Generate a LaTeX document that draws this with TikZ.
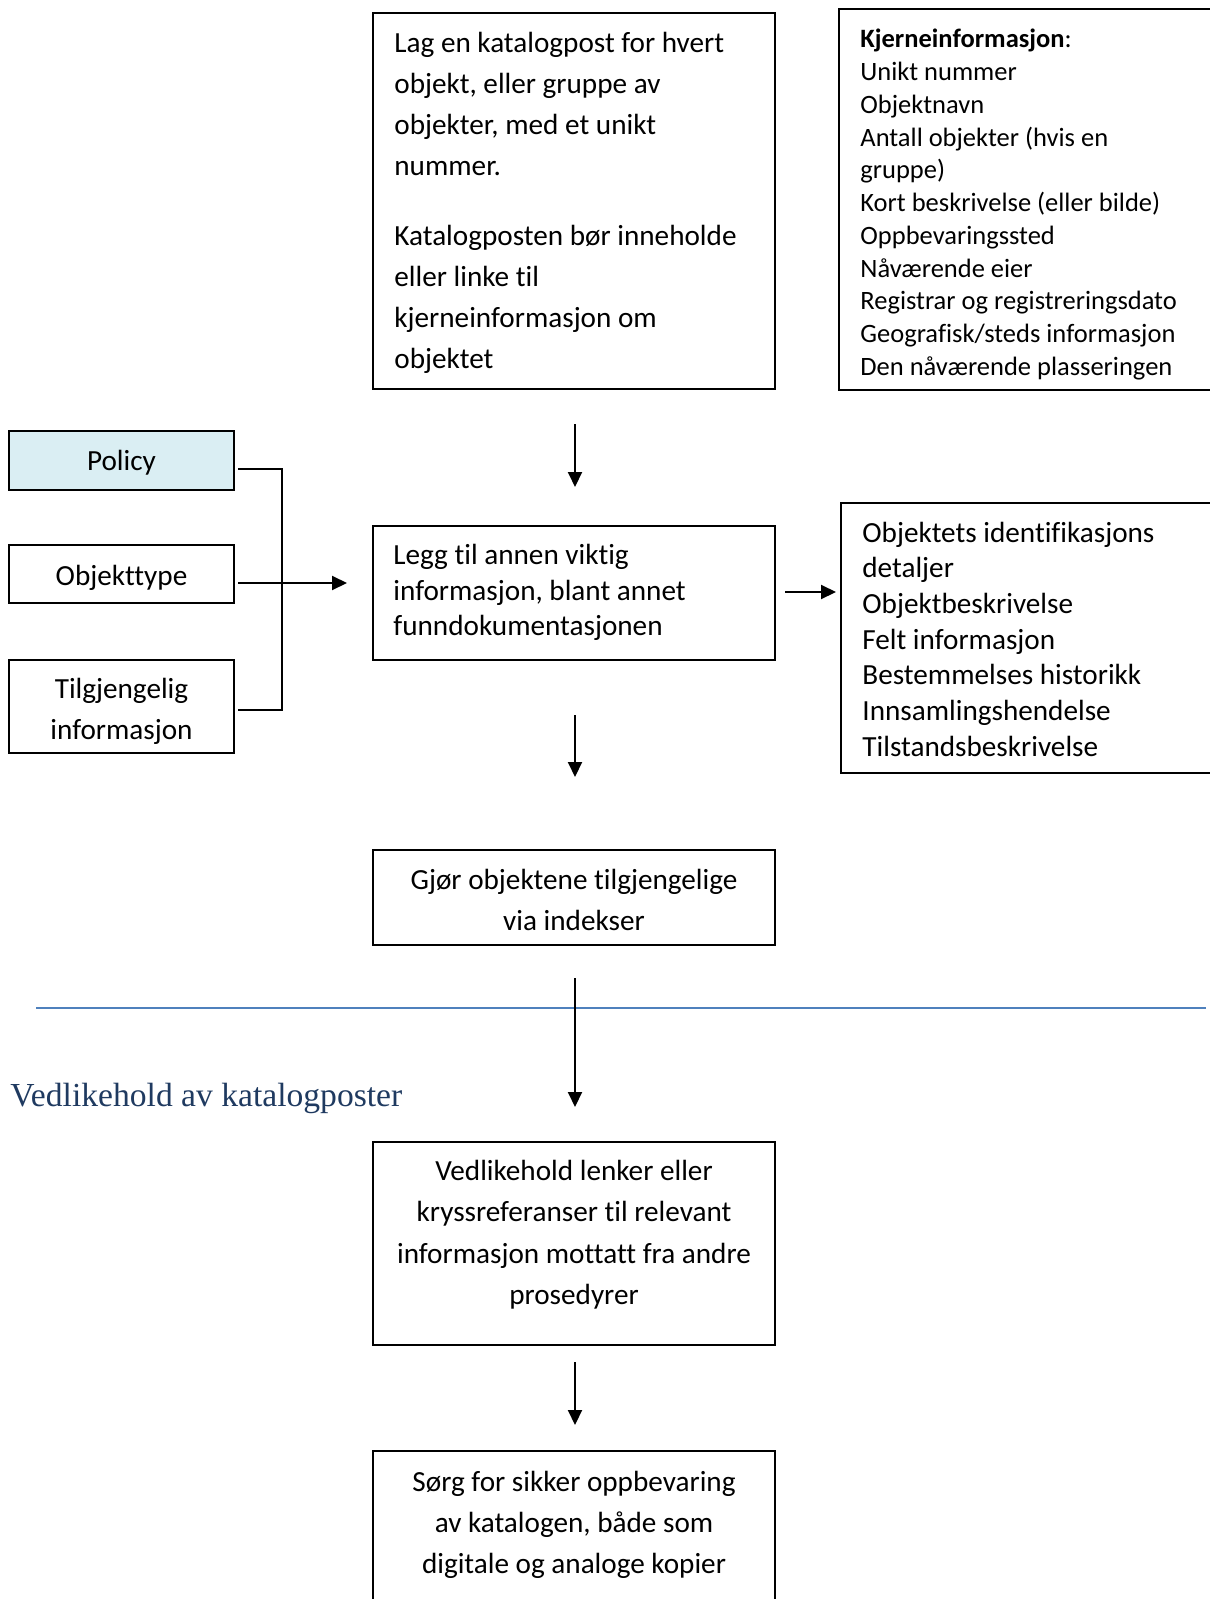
\documentclass[tikz,border=0pt]{standalone}
\usepackage{fontspec}
\setmainfont{Carlito}[Ligatures=NoCommon]
\newfontfamily\headfont{Liberation Serif}
\usetikzlibrary{arrows.meta,calc,fit}

\definecolor{policyfill}{HTML}{DAEEF3}
\definecolor{rulecolor}{HTML}{4F81BD}
\definecolor{headcolor}{RGB}{31,58,96}

% type sizes (1 picture unit = 0.5pt)
\newcommand\fsLoose{\fontsize{14.6pt}{20.5pt}\selectfont}
\newcommand\fsTight{\fontsize{14.6pt}{17.85pt}\selectfont}
\newcommand\fsSmall{\fontsize{13.25pt}{16.36pt}\selectfont}

\tikzset{
  box/.style={draw=black, line width=1pt, inner sep=0pt},
  txt/.style={inner sep=0pt, anchor=base west},
  ctxt/.style={inner sep=0pt, anchor=base},
  conn/.style={draw=black, line width=1pt},
  arr/.style={conn, -{Triangle[length=7.5pt,width=7pt]}},
  sectionrule/.style={draw=rulecolor, line width=1pt},
  heading/.style={inner sep=0pt, anchor=base west, text=headcolor,
    font=\headfont\fontsize{16.8pt}{20pt}\selectfont},
}

\begin{document}
\begin{tikzpicture}[x=0.5pt, y=-0.5pt]
\useasboundingbox (0,0) rectangle (1209,1599);

% ---- boxes ----
\node[box, fit={(373,13) (775,389)}] (top) {};
\node[box, fit={(839,9) (1216,390)}] (core) {};
\node[box, fill=policyfill, fit={(9,431) (234,490)}] (policy) {};
\node[box, fit={(9,545) (234,603)}] (otype) {};
\node[box, fit={(9,660) (234,753)}] (avail) {};
\node[box, fit={(373,526) (775,660)}] (legg) {};
\node[box, fit={(841,503) (1216,773)}] (details) {};
\node[box, fit={(373,850) (775,945)}] (gjor) {};
\node[box, fit={(373,1142) (775,1345)}] (vedl) {};
\node[box, fit={(373,1451) (775,1620)}] (sorg) {};

% ---- texts ----
\node[txt] (top-t) at (394,53) {\parbox[t]{200pt}{\fsLoose
  Lag en katalogpost for hvert\\ objekt, eller gruppe av\\ objekter, med et unikt\\ nummer.\\[14.5pt]
  Katalogposten bør inneholde\\ eller linke til\\ kjerneinformasjon om\\ objektet}};

\node[txt] (core-t) at (860,48) {\parbox[t]{180pt}{\fsSmall
  \textbf{Kjerneinformasjon}:\\ Unikt nummer\\ Objektnavn\\ Antall objekter (hvis en\\ gruppe)\\
  Kort beskrivelse (eller bilde)\\ Oppbevaringssted\\ Nåværende eier\\
  Registrar og registreringsdato\\ Geografisk/steds informasjon\\ Den nåværende plasseringen}};

\node[ctxt] (policy-t) at (121.5,470) {\fsLoose Policy};
\node[ctxt] (otype-t) at (121.5,585) {\fsLoose Objekttype};
\node[ctxt] (avail-t) at (121.5,698.5) {\parbox[t]{110pt}{\centering\fontsize{14.6pt}{20.7pt}\selectfont Tilgjengelig\\ informasjon}};

\node[txt] (legg-t) at (393,564.5) {\parbox[t]{190pt}{\fsTight
  Legg til annen viktig\\ informasjon, blant annet\\ funndokumentasjonen}};

\node[txt] (details-t) at (862,542) {\parbox[t]{180pt}{\fsTight
  Objektets identifikasjons\\ detaljer\\ Objektbeskrivelse\\ Felt informasjon\\
  Bestemmelses historikk\\ Innsamlingshendelse\\ Tilstandsbeskrivelse}};

\node[ctxt] (gjor-t) at (574,889) {\parbox[t]{200pt}{\centering\fsLoose
  Gjør objektene tilgjengelige\\ via indekser}};

\node[ctxt] (vedl-t) at (574,1180) {\parbox[t]{200pt}{\centering\fontsize{14.6pt}{20.8pt}\selectfont
  Vedlikehold lenker eller\\ kryssreferanser til relevant\\ informasjon mottatt fra andre\\ prosedyrer}};

\node[ctxt] (sorg-t) at (574,1491) {\parbox[t]{200pt}{\centering\fontsize{14.6pt}{20.6pt}\selectfont
  Sørg for sikker oppbevaring\\ av katalogen, både som\\ digitale og analoge kopier}};

% ---- section divider and heading ----
\draw[sectionrule] (36,1008) -- (1206,1008);
\node[heading] (head) at (10,1106) {Vedlikehold av katalogposter};

% ---- connectors ----
\coordinate (jn) at (282,583);
\draw[conn] ($(policy.east)+(3,8.5)$) -| (jn) |- ($(avail.east)+(3,3.5)$);
\draw[arr] ($(otype.east)+(3,9)$) -- ($(legg.west)+(-25,-10)$);
\draw[arr] ($(legg.east)+(9,-1)$) -- ($(details.west)+(-4,-46)$);

\draw[arr] ($(top.south)+(1,34)$) -- ($(legg.north)+(1,-38)$);
\draw[arr] ($(legg.south)+(1,54)$) -- ($(gjor.north)+(1,-72)$);
\draw[arr] ($(gjor.south)+(1,32)$) -- ($(vedl.north)+(1,-34)$);
\draw[arr] ($(vedl.south)+(1,16)$) -- ($(sorg.north)+(1,-25)$);
\end{tikzpicture}
\end{document}
